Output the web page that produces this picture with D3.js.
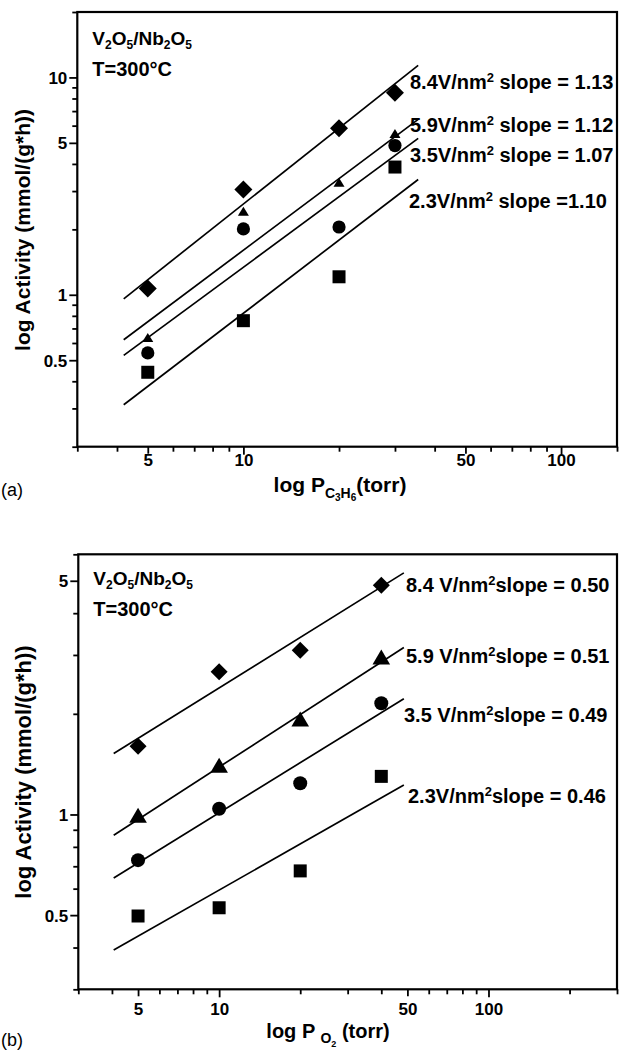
<!DOCTYPE html>
<html><head><meta charset="utf-8">
<script src="https://cdn.jsdelivr.net/npm/d3@7"></script>
<style>body{margin:0;background:#fff}svg{display:block}text{font-family:"Liberation Sans",Arial,sans-serif}</style>
</head><body><div id="chart"></div>
<script>
// ---------- data: panel (a) ----------
const topX = [5, 10, 20, 30];
const topDiamond  = [1.07, 3.05, 5.84, 8.50];
const topTriangle = [0.63, 2.40, 3.26, 5.47];
const topCircle   = [0.54, 2.01, 2.05, 4.86];
const topSquare   = [0.44, 0.76, 1.21, 3.87];
const topFitX = [4.2, 35.5];
const topFitDiamond  = [0.958, 11.36];
const topFitTriangle = [0.621, 6.41];
const topFitCircle   = [0.526, 5.24];
const topFitSquare   = [0.312, 3.39];
const topLoading = ["8.4V/nm", "5.9V/nm", "3.5V/nm", "2.3V/nm"];
const topSlope = [" slope = 1.13", " slope = 1.12", " slope = 1.07", " slope =1.10"];
const topXTicks = [3,4,5,6,7,8,9,10,20,30,40,50,60,70,80,90,100,150];
const topXLabels = [5,10,50,100];
const topYTicks = [0.2,0.3,0.4,0.5,0.6,0.7,0.8,0.9,1,2,3,4,5,6,7,8,9,10,20];
const topYLabels = [0.5,1,5,10];

// ---------- data: panel (b) ----------
const botX = [5, 10, 20, 40];
const botDiamond  = [1.60, 2.67, 3.10, 4.85];
const botTriangle = [0.984, 1.39, 1.91, 2.93];
const botCircle   = [0.73, 1.04, 1.24, 2.15];
const botSquare   = [0.497, 0.526, 0.678, 1.30];
const botFitX = [4.06, 48.5];
const botFitDiamond  = [1.522, 5.28];
const botFitTriangle = [0.867, 3.157];
const botFitCircle   = [0.646, 2.22];
const botFitSquare   = [0.393, 1.225];
const botLoading = ["8.4 V/nm", "5.9 V/nm", "3.5 V/nm", "2.3V/nm"];
const botSlope = ["slope = 0.50", "slope = 0.51", "slope = 0.49", "slope = 0.46"];
const botXTicks = [3,4,5,6,7,8,9,10,20,30,40,50,60,70,80,90,100,200,300];
const botXLabels = [5,10,50,100];
const botYTicks = [0.3,0.4,0.5,0.6,0.7,0.8,0.9,1,2,3,4,5,6];
const botYLabels = [0.5,1,5];

const W = 619, H = 1053;
const svg = d3.select("#chart").append("svg").attr("width", W).attr("height", H);

function marker(g, type, cx, cy, big) {
  let p;
  if (type === "diamond") {
    const r = big ? 8.5 : 9;
    p = `M${cx},${cy-r}L${cx+r},${cy}L${cx},${cy+r}L${cx-r},${cy}Z`;
  } else if (type === "square") {
    const s = 6.5;
    p = `M${cx-s},${cy-s}H${cx+s}V${cy+s}H${cx-s}Z`;
  } else if (type === "triangle") {
    const w = big ? 8.8 : 5.5, h = big ? 15 : 9;
    p = `M${cx},${cy-h*0.6}L${cx+w},${cy+h*0.4}L${cx-w},${cy+h*0.4}Z`;
  }
  if (type === "circle") {
    g.append("circle").attr("cx", cx).attr("cy", cy).attr("r", big ? 7 : 6.6).attr("fill", "#000");
  } else {
    g.append("path").attr("d", p).attr("fill", "#000");
  }
}

function panel(cfg) {
  const x = d3.scaleLog().domain(cfg.xDomain).range(cfg.xRange);
  const y = d3.scaleLog().domain(cfg.yDomain).range(cfg.yRange);
  const g = svg.append("g");
  const x0 = cfg.xRange[0], x1 = cfg.xRange[1], y0 = cfg.yRange[0], y1 = cfg.yRange[1];

  // x axis
  const ax = g.append("g").attr("transform", `translate(0,${y0})`)
    .call(d3.axisBottom(x).tickValues(cfg.xTicks).tickSizeOuter(0).tickSize(5)
      .tickFormat(d => cfg.xLabels.includes(d) ? String(d) : ""));
  ax.select(".domain").remove();
  ax.selectAll(".tick line").attr("stroke", "#000").attr("stroke-width", 1.8)
    .attr("y2", d => (d === 10 || d === 100) ? 8 : (cfg.xLabels.includes(d) ? 7 : 5));
  ax.selectAll(".tick text").attr("y", cfg.xLabelOffset).attr("dy", null)
    .attr("font-family", "Liberation Sans, Arial, sans-serif").attr("font-weight", "bold")
    .attr("font-size", 17).attr("fill", "#000");

  // y axis
  const ay = g.append("g").attr("transform", `translate(${x0},0)`)
    .call(d3.axisLeft(y).tickValues(cfg.yTicks).tickSizeOuter(0).tickSize(5)
      .tickFormat(d => cfg.yLabels.includes(d) ? String(d) : ""));
  ay.select(".domain").remove();
  ay.selectAll(".tick line").attr("stroke", "#000").attr("stroke-width", 1.8)
    .attr("x2", d => cfg.yLabels.includes(d) ? -8 : -5);
  ay.selectAll(".tick text").attr("x", -10).attr("dy", "0.36em")
    .attr("font-family", "Liberation Sans, Arial, sans-serif").attr("font-weight", "bold")
    .attr("font-size", 17).attr("fill", "#000");

  // frame
  g.append("rect").attr("x", x0).attr("y", y1).attr("width", x1 - x0).attr("height", y0 - y1)
    .attr("fill", "none").attr("stroke", "#000").attr("stroke-width", 2.2);

  // fit lines
  cfg.fits.forEach(f => {
    g.append("line").attr("x1", x(cfg.fitX[0])).attr("y1", y(f[0]))
      .attr("x2", x(cfg.fitX[1])).attr("y2", y(f[1]))
      .attr("stroke", "#000").attr("stroke-width", 1.7);
  });

  // markers
  cfg.series.forEach(s => {
    s.vals.forEach((v, i) => marker(g, s.type, x(cfg.xs[i]), y(v), cfg.big));
  });

  // header text
  const h = g.append("text").attr("x", x0 + 15).attr("y", cfg.headY)
    .attr("font-weight", "bold").attr("font-size", 19).attr("fill", "#000");
  [["V",0],["2",1],["O",0],["5",1],["/Nb",0],["2",1],["O",0],["5",1]].forEach(([t, sub]) => {
    h.append("tspan").text(t).attr("font-size", sub ? 12 : 19)
      .attr("baseline-shift", sub ? "-4" : null);
  });
  g.append("text").attr("x", x0 + 15).attr("y", cfg.headY + 31)
    .attr("font-weight", "bold").attr("font-size", 20).attr("fill", "#000").text("T=300°C");

  // annotations
  cfg.annot.forEach((a, i) => {
    const t = g.append("text").attr("x", a[0]).attr("y", a[1])
      .attr("font-weight", "bold").attr("font-size", 20).attr("fill", "#000");
    t.append("tspan").text(cfg.loading[i]);
    t.append("tspan").text("2").attr("font-size", 13).attr("baseline-shift", "7");
    t.append("tspan").text(cfg.slope[i]);
  });

  // y label
  g.append("text").attr("transform", `translate(${cfg.yLabX},${cfg.yLabY}) rotate(-90)`)
    .attr("text-anchor", "middle").attr("font-weight", "bold").attr("font-size", cfg.yLabSize)
    .attr("fill", "#000").text("log Activity (mmol/(g*h))");

  return {g, x, y};
}

// panel (a)
const pa = panel({
  xDomain: [3, 150], xRange: [77.3, 617], yDomain: [0.2, 20], yRange: [446.7, 12],
  xTicks: topXTicks, xLabels: topXLabels, yTicks: topYTicks, yLabels: topYLabels,
  xLabelOffset: 19, xs: topX, big: false,
  series: [{type: "diamond", vals: topDiamond}, {type: "triangle", vals: topTriangle},
           {type: "circle", vals: topCircle}, {type: "square", vals: topSquare}],
  fitX: topFitX, fits: [topFitDiamond, topFitTriangle, topFitCircle, topFitSquare],
  headY: 45, loading: topLoading, slope: topSlope,
  annot: [[410, 89], [410, 132], [410, 162], [409, 208]],
  yLabX: 30, yLabY: 230, yLabSize: 21
});
// x label (a)
{
  const t = pa.g.append("text").attr("x", 340).attr("y", 492).attr("text-anchor", "middle")
    .attr("font-weight", "bold").attr("font-size", 21).attr("fill", "#000");
  t.append("tspan").text("log P");
  t.append("tspan").text("C").attr("font-size", 14).attr("dy", 6);
  t.append("tspan").text("3").attr("font-size", 10).attr("dy", 3);
  t.append("tspan").text("H").attr("font-size", 14).attr("dy", -3);
  t.append("tspan").text("6").attr("font-size", 10).attr("dy", 3);
  t.append("tspan").text("(torr)").attr("font-size", 21).attr("dy", -9);
  pa.g.append("text").attr("x", 1).attr("y", 496).attr("font-size", 18).attr("fill", "#000").text("(a)");
}

// panel (b)
const pb = panel({
  xDomain: [3, 300], xRange: [78.3, 617], yDomain: [0.3, 6], yRange: [989.3, 554.3],
  xTicks: botXTicks, xLabels: botXLabels, yTicks: botYTicks, yLabels: botYLabels,
  xLabelOffset: 26, xs: botX, big: true,
  series: [{type: "diamond", vals: botDiamond}, {type: "triangle", vals: botTriangle},
           {type: "circle", vals: botCircle}, {type: "square", vals: botSquare}],
  fitX: botFitX, fits: [botFitDiamond, botFitTriangle, botFitCircle, botFitSquare],
  headY: 585, loading: botLoading, slope: botSlope,
  annot: [[406, 592], [406, 663], [404, 722], [408, 803]],
  yLabX: 31, yLabY: 772, yLabSize: 22
});
{
  const t = pb.g.append("text").attr("x", 328).attr("y", 1038).attr("text-anchor", "middle")
    .attr("font-weight", "bold").attr("font-size", 20).attr("fill", "#000");
  t.append("tspan").text("log P ");
  t.append("tspan").text("O").attr("font-size", 14).attr("dy", 5);
  t.append("tspan").text("2").attr("font-size", 9).attr("dy", 4);
  t.append("tspan").text(" (torr)").attr("font-size", 20).attr("dy", -9);
  pb.g.append("text").attr("x", 1).attr("y", 1046).attr("font-size", 18).attr("fill", "#000").text("(b)");
}
</script></body></html>
